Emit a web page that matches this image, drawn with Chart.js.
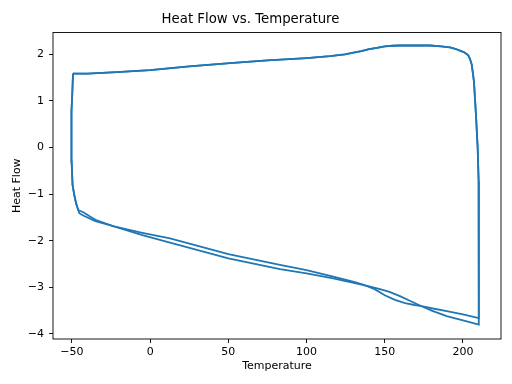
<!DOCTYPE html>
<html>
<head>
<meta charset="utf-8">
<script src="https://cdn.jsdelivr.net/npm/chart.js@4/dist/chart.umd.min.js"></script>
<style>
  body { margin: 0; background: #fff; }
  #wrap { width: 512px; height: 384px; }
</style>
</head>
<body>
<div id="wrap"><canvas id="dsc" width="512" height="384"></canvas></div>
<script>
// heating branch (shared by both cycles), incl. the drop at ~210 C
const heatT  = [-49.3, -48.5, -40, -21.4, 0, 25, 51, 75, 100, 115, 124.5, 130, 135, 140, 145, 150, 155, 159.7, 178.9, 186, 191.7, 195, 198, 201, 203.4, 204.5, 205.6, 207, 208.3, 209.4, 210, 210.1, 210.1];
const heatHF = [1.59, 1.585, 1.585, 1.62, 1.66, 1.74, 1.81, 1.87, 1.92, 1.96, 2.0, 2.035, 2.07, 2.11, 2.14, 2.17, 2.185, 2.19, 2.19, 2.17, 2.15, 2.12, 2.08, 2.04, 1.98, 1.90, 1.78, 1.42, 0.70, -0.02, -0.73, -1.5, -3.5];

// cooling branch, cycle 1 (from 210 back to -50 and up)
const cool1T  = [210.1, 200, 189.6, 180, 172.5, 166, 159.7, 153, 146.9, 140, 130.9, 117, 100, 83, 50, 12.7, -5, -22.5, -35, -42.8, -46.0, -46.8, -47.6, -48.5, -49.6, -50.2, -50.4, -50.2, -49.8, -49.3];
const cool1HF = [-3.80, -3.71, -3.62, -3.50, -3.39, -3.29, -3.19, -3.10, -3.04, -2.98, -2.91, -2.81, -2.70, -2.61, -2.38, -2.04, -1.88, -1.70, -1.55, -1.39, -1.34, -1.25, -1.16, -1.02, -0.80, -0.30, 0.07, 0.77, 1.14, 1.59];

// cooling branch, cycle 2
const cool2T  = [210.1, 200, 189.6, 180, 176, 172.5, 169, 163, 156.5, 150, 143.5, 136, 130.9, 117, 100, 83, 50, 12.7, -5, -22.5, -35, -42.8, -45.3, -47.2, -48.5, -49.6, -50.2, -50.4, -50.2, -49.8, -49.3];
const cool2HF = [-3.66, -3.58, -3.51, -3.45, -3.42, -3.40, -3.38, -3.34, -3.27, -3.17, -3.04, -2.94, -2.89, -2.77, -2.63, -2.52, -2.29, -1.95, -1.83, -1.70, -1.58, -1.46, -1.41, -1.22, -1.02, -0.80, -0.30, 0.07, 0.77, 1.14, 1.59];

const xTicks = [-50, 0, 50, 100, 150, 200];
const yTicks = [-4, -3, -2, -1, 0, 1, 2];

function pts(xs, ys) {
  return xs.map((x, i) => ({ x: x, y: ys[i] }));
}

const cycle1 = pts(heatT, heatHF).concat(pts(cool1T, cool1HF));
const cycle2 = pts(heatT, heatHF).concat(pts(cool2T, cool2HF));

const font = { family: "DejaVu Sans", size: 11 };
const minus = (v) => String(v).replace("-", "\u2212");

// box round the plot area, like matplotlib spines
const frame = {
  id: "frame",
  afterDatasetsDraw(chart) {
    const a = chart.chartArea;
    const ctx = chart.ctx;
    ctx.save();
    ctx.strokeStyle = "#000";
    ctx.lineWidth = 0.9;
    ctx.strokeRect(a.left, a.top, a.right - a.left, a.bottom - a.top);
    ctx.restore();
  },
};

const line = {
  showLine: true,
  borderColor: "#1f77b4",
  borderWidth: 1.8,
  pointRadius: 0,
  tension: 0,
  fill: false,
};

new Chart(document.getElementById("dsc"), {
  type: "scatter",
  data: {
    datasets: [
      Object.assign({ label: "cycle 1", data: cycle1 }, line),
      Object.assign({ label: "cycle 2", data: cycle2 }, line),
    ],
  },
  options: {
    responsive: false,
    animation: false,
    layout: { padding: { top: 0, right: 11, bottom: 0, left: 0 } },
    plugins: {
      legend: { display: false },
      tooltip: { enabled: false },
      title: {
        display: true,
        text: "Heat Flow vs. Temperature",
        color: "#000",
        font: { family: "DejaVu Sans", size: 13.3, weight: "normal" },
        padding: { top: 11.5, bottom: 5 },
      },
    },
    scales: {
      x: {
        type: "linear",
        min: -62.1,
        max: 224.3,
        afterBuildTicks: (s) => { s.ticks = xTicks.map((v) => ({ value: v })); },
        afterFit: (s) => { s.height = 45; },
        ticks: { color: "#000", font: font, padding: 3, maxRotation: 0, callback: minus },
        grid: { drawOnChartArea: false, drawTicks: true, tickLength: 4, color: "#000", lineWidth: 0.9 },
        border: { display: false },
        title: { display: true, text: "Temperature", color: "#000", font: font, padding: { top: 11, bottom: 11 } },
      },
      y: {
        type: "linear",
        min: -4.11,
        max: 2.47,
        afterBuildTicks: (s) => { s.ticks = yTicks.map((v) => ({ value: v })); },
        afterFit: (s) => { s.width = 53; },
        ticks: { color: "#000", font: font, padding: 5, callback: minus },
        grid: { drawOnChartArea: false, drawTicks: true, tickLength: 4, color: "#000", lineWidth: 0.9 },
        border: { display: false },
        title: { display: true, text: "Heat Flow", color: "#000", font: font, padding: { top: 11, bottom: 11 } },
      },
    },
  },
  plugins: [frame],
});
</script>
</body>
</html>
